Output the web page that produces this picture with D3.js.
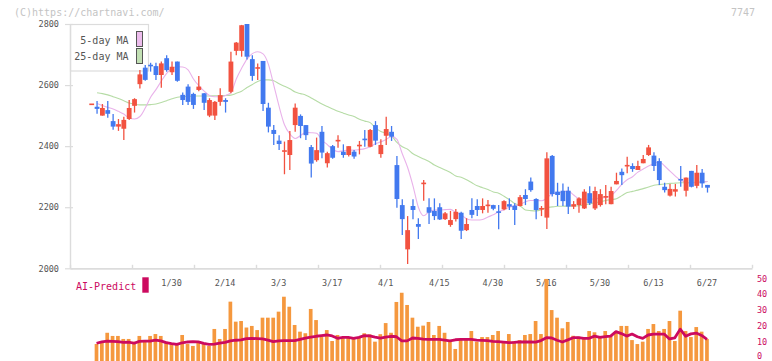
<!DOCTYPE html>
<html><head><meta charset="utf-8">
<script src="https://cdn.jsdelivr.net/npm/d3@7/dist/d3.min.js"></script>
<style>
html,body{margin:0;padding:0;background:#fff;}
svg{display:block;}
text{font-family:"DejaVu Sans Mono","Liberation Mono",monospace;}
</style></head>
<body>
<svg id="chart" width="772" height="361"></svg>
<script>
// ---------- data ----------
const dates = ["1/8","1/9","1/10","1/14","1/15","1/16","1/17","1/20","1/21","1/22","1/23","1/24","1/27","1/28","1/29","1/30","1/31",
"2/3","2/4","2/5","2/6","2/7","2/10","2/12","2/13","2/14","2/17","2/18","2/19","2/20","2/21","2/25","2/26","2/27","2/28",
"3/3","3/4","3/5","3/6","3/7","3/10","3/11","3/12","3/13","3/14","3/17","3/18","3/19","3/21","3/24","3/25","3/26","3/27","3/28","3/31",
"4/1","4/2","4/3","4/4","4/7","4/8","4/9","4/10","4/11","4/14","4/15","4/16","4/17","4/18","4/21","4/22","4/23","4/24","4/25","4/28","4/30",
"5/1","5/2","5/7","5/8","5/9","5/12","5/13","5/14","5/15","5/16","5/19","5/20","5/21","5/22","5/23","5/26","5/27","5/28","5/29","5/30",
"6/2","6/3","6/4","6/5","6/6","6/9","6/10","6/11","6/12","6/13","6/16","6/17","6/18","6/19","6/20","6/23","6/24","6/25","6/26","6/27"];

const open  = [2536,2529,2500,2518,2482,2464,2457,2489,2532,2603,2657,2664,2662,2633,2688,2642,2677,2568,2595,2571,2584,2573,2500,2500,2545,2551,2578,2712,2712,2800,
2685,2653,2679,2526,2453,2418,2380,2371,2469,2499,2469,2397,2354,2447,2344,2400,2415,2382,2371,2382,2399,2422,2398,2469,2374,2434,2447,2338,2207,2062,
2204,2145,2274,2200,2188,2200,2161,2142,2161,2182,2125,2191,2204,2191,2203,2207,2184,2193,2210,2205,2204,2240,2284,2227,2192,2166,2368,2251,2254,2254,
2202,2207,2196,2246,2196,2207,2232,2210,2275,2316,2333,2335,2322,2344,2371,2369,2351,2267,2238,2251,2290,2254,2319,2270,2313,2273];
const high  = [2538,2548,2538,2548,2505,2489,2496,2551,2557,2649,2666,2673,2673,2677,2698,2677,2677,2576,2603,2575,2630,2574,2557,2548,2590,2557,2709,2741,2797,2800,
2698,2671,2679,2542,2469,2436,2415,2450,2540,2504,2469,2404,2428,2466,2382,2404,2436,2406,2400,2387,2417,2453,2456,2482,2423,2496,2466,2368,2226,2171,
2226,2164,2289,2229,2229,2213,2184,2188,2194,2185,2164,2229,2226,2229,2224,2208,2207,2223,2229,2213,2240,2259,2297,2229,2204,2380,2371,2280,2278,2267,
2220,2233,2259,2269,2267,2259,2273,2267,2313,2327,2365,2344,2352,2371,2404,2380,2360,2280,2276,2276,2335,2297,2319,2338,2325,2273];
const low   = [2536,2506,2500,2493,2454,2450,2420,2486,2510,2589,2614,2644,2617,2591,2644,2633,2611,2535,2535,2522,2580,2518,2495,2486,2532,2510,2573,2698,2693,2684,
2614,2617,2515,2445,2404,2387,2308,2322,2447,2426,2420,2297,2349,2360,2330,2359,2395,2362,2366,2359,2373,2398,2396,2404,2362,2404,2417,2198,2109,2014,
2161,2096,2221,2145,2158,2158,2158,2136,2153,2096,2122,2164,2171,2180,2182,2190,2128,2190,2191,2142,2202,2207,2251,2161,2171,2129,2235,2204,2204,2178,
2194,2182,2194,2207,2191,2202,2210,2210,2275,2273,2311,2316,2322,2344,2368,2319,2273,2248,2235,2235,2267,2235,2265,2262,2264,2248];
const close = [2537,2522,2525,2506,2464,2472,2486,2525,2554,2635,2617,2660,2633,2671,2649,2660,2614,2551,2545,2535,2595,2542,2551,2545,2567,2545,2677,2739,2796,2693,
2630,2656,2538,2464,2440,2407,2384,2420,2526,2466,2436,2343,2387,2379,2377,2362,2418,2371,2400,2366,2402,2418,2453,2418,2404,2456,2431,2227,2161,2125,
2191,2136,2278,2182,2171,2160,2180,2158,2185,2123,2145,2175,2191,2204,2206,2195,2180,2220,2202,2191,2233,2227,2256,2191,2195,2360,2243,2240,2220,2202,
2210,2229,2251,2213,2253,2243,2234,2253,2286,2305,2336,2325,2335,2358,2396,2335,2289,2256,2260,2259,2288,2297,2267,2313,2278,2264];

const ma5 = [null,2540,2533,2527,2522,2514,2505,2492,2489,2497,2525,2560,2585,2613,2638,2655,2660,2659,2650,2620,2598,2580,2566,2562,2562,2566,2575,2620,2655,2685,
2703,2709,2702,2668,2600,2530,2470,2440,2425,2435,2445,2444,2442,2420,2405,2390,2382,2385,2387,2387,2389,2392,2398,2408,2414,2422,2432,2422,2375,2330,
2270,2200,2172,2185,2191,2191,2192,2193,2183,2175,2162,2158,2158,2160,2168,2175,2185,2192,2200,2205,2209,2218,2222,2222,2221,2230,2245,2246,2250,2253,
2240,2228,2226,2226,2228,2230,2232,2238,2255,2275,2290,2300,2315,2325,2335,2343,2349,2335,2318,2302,2288,2282,2280,2280,2282,2284];
const ma25 = [null,2575,2572,2568,2562,2556,2549,2541,2537,2535,2535,2536,2538,2543,2549,2555,2560,2562,2563,2564,2564,2564,2564,2565,2565,2566,2567,2573,2580,2592,
2602,2612,2617,2617,2614,2604,2596,2588,2577,2572,2567,2558,2548,2538,2530,2522,2514,2508,2502,2497,2488,2482,2477,2460,2448,2442,2434,2412,2398,2390,
2375,2366,2358,2350,2338,2330,2322,2314,2302,2298,2290,2280,2270,2264,2258,2250,2246,2236,2225,2212,2205,2191,2189,2188,2192,2199,2201,2203,2203,2204,
2204,2205,2207,2211,2215,2218,2222,2225,2228,2238,2248,2252,2256,2261,2266,2272,2274,2276,2278,2279,2280,2280,2281,2282,2283,2284];

const volume = [null,8.6,10.1,15.7,13.7,13.7,11.8,11.8,10.1,13.7,10.1,13.7,14.9,13.7,10.1,8.6,8.6,14.3,8.6,7.4,10.1,8.6,7.4,18.1,11.8,18.1,35.3,22.7,23.1,19.0,
20.0,17.4,25.2,25.2,25.2,29.0,38.4,32.1,20.6,16.4,15.4,30.7,23.7,13.2,17.4,10.5,14.3,12.6,12.6,12.6,12.6,15.4,14.7,10.1,14.8,21.8,15.7,35.1,40.9,33.2,
25.2,19.5,20.2,22.5,14.3,20.0,15.7,10.1,5.5,11.1,11.1,16.8,10.1,13.0,13.0,14.3,16.8,10.1,14.9,10.5,11.1,14.3,14.9,23.1,14.9,49.6,30.0,25.2,18.5,22.5,
13.8,13.3,12.2,16.8,16.0,13.7,16.8,13.7,16.8,20.0,20.0,11.1,8.6,10.1,18.1,21.2,16.8,18.1,23.1,10.5,29.6,16.8,13.0,19.3,16.4,11.8];
const aiPredict = [null,9.1,10.0,10.5,10.3,10.1,9.6,9.8,9.1,10.3,10.4,10.5,11.0,10.6,9.5,8.9,8.4,9.4,9.9,10.1,10.0,9.0,8.4,8.6,9.2,9.6,10.6,11.0,11.2,12.0,
12.2,12.0,11.8,11.1,10.1,10.6,10.7,10.7,10.7,11.5,12.3,12.9,13.5,13.9,14.3,13.7,12.2,12.8,12.8,12.2,12.8,13.9,13.7,13.0,12.4,13.0,13.5,13.2,10.6,10.6,
12.4,12.2,11.7,11.5,11.5,11.5,11.1,10.6,11.3,11.5,11.5,11.5,11.1,10.9,10.7,10.3,10.1,9.8,9.5,9.6,9.9,9.9,9.9,9.8,10.8,12.6,12.4,11.0,9.9,11.2,
12.6,12.6,12.2,12.2,13.6,12.8,13.3,13.6,16.4,15.2,13.6,14.9,13.2,12.2,14.3,14.8,14.9,14.9,11.8,12.5,18.0,13.5,15.0,15.5,14.0,11.5];

const priceTicks = [2000,2200,2400,2600,2800];
const dateTickIdx = [15,25,35,45,55,65,75,85,95,105,115];
const volTicks = [0,10,20,30,40,50];
const axisTickCount = 11;

// ---------- setup ----------
const svg = d3.select("#chart");
const UP = "#f25240", DOWN = "#4279ef";
const idx = d3.range(dates.length);

const x = d3.scaleLinear().domain([0, dates.length - 1]).range([91.7, 707.5]);
const y = d3.scaleLinear().domain([2000, 2800]).range([268.3, 24]);
const yv = d3.scaleLinear().domain([0, 50]).range([357.7, 278.3]);
const xt = d3.scaleLinear().domain([0, axisTickCount]).range([70, 752]);

// header texts
svg.append("text").attr("x", 14).attr("y", 15.5).attr("font-size", 10)
  .attr("fill", "#c4c4c4").text("(C)https://chartnavi.com/");
svg.append("text").attr("x", 755).attr("y", 15.5).attr("font-size", 10)
  .attr("text-anchor", "end").attr("fill", "#c4c4c4").text("7747");

// legend box (behind candles)
const lg = svg.append("g");
lg.append("rect").attr("x", 70.5).attr("y", 24.5).attr("width", 78).attr("height", 46.5)
  .attr("fill", "#fff").attr("stroke", "#dcdcdc").attr("stroke-width", 1.2);
lg.append("text").attr("x", 128.5).attr("y", 43.5).attr("font-size", 10).attr("text-anchor", "end")
  .attr("fill", "#555").text("5-day MA");
lg.append("text").attr("x", 128.5).attr("y", 59.5).attr("font-size", 10).attr("text-anchor", "end")
  .attr("fill", "#555").text("25-day MA");
lg.append("rect").attr("x", 136.5).attr("y", 31.5).attr("width", 6).attr("height", 15)
  .attr("fill", "#ecbcec").attr("stroke", "#555").attr("stroke-width", 1);
lg.append("rect").attr("x", 136.5).attr("y", 48.5).attr("width", 6).attr("height", 15)
  .attr("fill", "#c2e0b4").attr("stroke", "#555").attr("stroke-width", 1);

// y axis
const yAxis = d3.axisLeft(y).tickValues(priceTicks).tickFormat(d3.format("d"))
  .tickSize(5).tickSizeOuter(0).tickPadding(6);
const gy = svg.append("g").attr("transform", "translate(70,0)").call(yAxis);
gy.select(".domain").attr("stroke", "#dcdcdc").attr("stroke-width", 1.4);
gy.selectAll(".tick line").attr("stroke", "#dcdcdc").attr("stroke-width", 1.2).attr("x2", 3).attr("x1", -5);
gy.selectAll(".tick text").attr("fill", "#555").attr("font-size", 8.5)
  .attr("font-family", "DejaVu Sans Mono, monospace");

// x axis line with evenly spaced inward ticks
const xAxis = d3.axisBottom(xt).tickValues(d3.range(axisTickCount + 1)).tickSize(-3.5).tickSizeOuter(0).tickFormat("");
const gx = svg.append("g").attr("transform", "translate(0,268.3)").call(xAxis);
gx.select(".domain").attr("stroke", "#dcdcdc").attr("stroke-width", 1.8);
gx.selectAll(".tick line").attr("stroke", "#dcdcdc").attr("stroke-width", 1.4);

// date labels
const dAxis = d3.axisBottom(x).tickValues(dateTickIdx).tickSize(0).tickPadding(0)
  .tickFormat(i => dates[i]);
const gd = svg.append("g").attr("transform", "translate(-1,279.5)").call(dAxis);
gd.select(".domain").remove();
gd.selectAll(".tick text").attr("fill", "#555").attr("font-size", 8.5)
  .attr("font-family", "DejaVu Sans Mono, monospace");

// moving averages
const lineMA = d3.line().x(d => x(d[0])).y(d => y(d[1])).curve(d3.curveMonotoneX);
const ma25pts = idx.filter(i => ma25[i] != null).map(i => [i, ma25[i]]);
const ma5pts = idx.filter(i => ma5[i] != null).map(i => [i, ma5[i]]);
svg.append("path").attr("d", lineMA(ma25pts)).attr("fill", "none")
  .attr("stroke", "#b6dca6").attr("stroke-width", 1.1);
svg.append("path").attr("d", lineMA(ma5pts)).attr("fill", "none")
  .attr("stroke", "#e9b2ea").attr("stroke-width", 1.1);

// candles
const cg = svg.append("g");
const bw = 4.8;
cg.selectAll("line.wick").data(idx).join("line").attr("class", "wick")
  .attr("x1", i => x(i)).attr("x2", i => x(i))
  .attr("y1", i => y(high[i])).attr("y2", i => y(low[i]))
  .attr("stroke", i => close[i] >= open[i] ? UP : DOWN).attr("stroke-width", 1.3);
cg.selectAll("rect.body").data(idx).join("rect").attr("class", "body")
  .attr("x", i => x(i) - bw / 2).attr("width", bw)
  .attr("y", i => Math.min(y(open[i]), y(close[i])) - (Math.abs(y(open[i]) - y(close[i])) < 1.6 ? 0.8 : 0))
  .attr("height", i => Math.max(1.6, Math.abs(y(open[i]) - y(close[i]))))
  .attr("fill", i => close[i] >= open[i] ? UP : DOWN);

// lower panel: AI-Predict
svg.append("text").attr("x", 76).attr("y", 289.5).attr("font-size", 10)
  .attr("fill", "#cc0a5f").text("AI-Predict");
svg.append("rect").attr("x", 142.3).attr("y", 277.3).attr("width", 6.4).attr("height", 15.4)
  .attr("fill", "#cc0a5f");

const vIdx = idx.filter(i => volume[i] != null);
svg.append("g").selectAll("rect").data(vIdx).join("rect")
  .attr("x", i => x(i) - 1.9 - 0.5).attr("width", 3.7)
  .attr("y", i => yv(volume[i])).attr("height", i => yv(0) + 4 - yv(volume[i]))
  .attr("fill", "#f5983e");

const aiIdx = idx.filter(i => aiPredict[i] != null);
svg.append("path").attr("d", d3.line().x(i => x(i) - 0.5).y(i => yv(aiPredict[i]))(aiIdx))
  .attr("fill", "none").attr("stroke", "#cc0a5f").attr("stroke-width", 2.8)
  .attr("stroke-linejoin", "round");

// right axis labels for lower panel
const rAxis = d3.axisRight(yv).tickValues(volTicks).tickSize(0).tickPadding(0);
const gr = svg.append("g").attr("transform", "translate(757,0)").call(rAxis);
gr.select(".domain").remove();
gr.selectAll(".tick text").attr("fill", "#cc0a5f").attr("font-size", 8.5)
  .attr("font-family", "DejaVu Sans Mono, monospace")
  .attr("y", d => d === 0 ? -1.8 : 0);
</script>
</body></html>
